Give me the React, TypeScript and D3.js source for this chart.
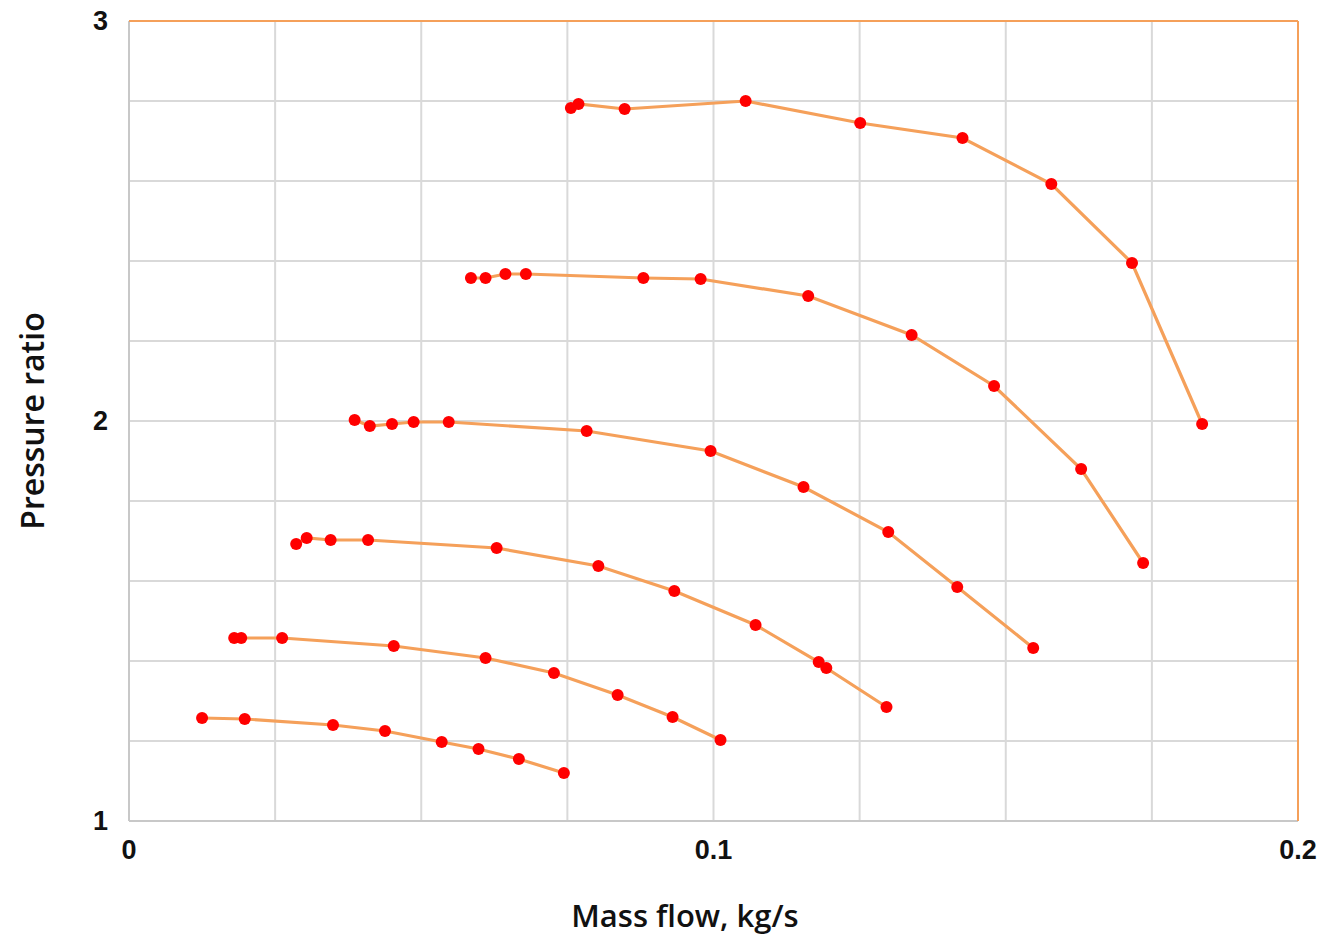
import { useEffect, useRef } from 'react'
import * as d3 from 'd3'

const W = 1324, H = 937
const M = { left: 129, right: 26, top: 21, bottom: 116 }

const X_TICKS = [0, 0.1, 0.2]
const Y_TICKS = [1, 2, 3]

// speed lines, top to bottom
const flow1 = [0.0756, 0.0769, 0.0848, 0.1055, 0.1251, 0.1426, 0.1578, 0.1716, 0.1836]
const ratio1 = [2.7825, 2.7925, 2.78, 2.8, 2.745, 2.7075, 2.5925, 2.395, 1.9925]
const flow2 = [0.0585, 0.061, 0.0644, 0.0679, 0.088, 0.0978, 0.1162, 0.1339, 0.148, 0.1629, 0.1735]
const ratio2 = [2.3575, 2.3575, 2.3675, 2.3675, 2.3575, 2.355, 2.3125, 2.215, 2.0875, 1.88, 1.645]
const flow3 = [0.0386, 0.0412, 0.045, 0.0487, 0.0547, 0.0783, 0.0995, 0.1154, 0.1299, 0.1417, 0.1547]
const ratio3 = [2.0025, 1.9875, 1.9925, 1.9975, 1.9975, 1.975, 1.925, 1.835, 1.7225, 1.585, 1.4325]
const flow4 = [0.0286, 0.0304, 0.0345, 0.0409, 0.0629, 0.0803, 0.0933, 0.1072, 0.118, 0.1193, 0.1296]
const ratio4 = [1.6925, 1.7075, 1.7025, 1.7025, 1.6825, 1.6375, 1.575, 1.49, 1.3975, 1.3825, 1.285]
const flow5 = [0.018, 0.0192, 0.0262, 0.0453, 0.061, 0.0727, 0.0836, 0.093, 0.1012]
const ratio5 = [1.4575, 1.4575, 1.4575, 1.4375, 1.4075, 1.37, 1.315, 1.26, 1.2025]
const flow6 = [0.0125, 0.0198, 0.0349, 0.0438, 0.0535, 0.0598, 0.0667, 0.0744]
const ratio6 = [1.2575, 1.255, 1.24, 1.225, 1.1975, 1.18, 1.155, 1.12]

const SERIES = [
  [flow1, ratio1], [flow2, ratio2], [flow3, ratio3],
  [flow4, ratio4], [flow5, ratio5], [flow6, ratio6],
]

export default function App() {
  const ref = useRef<SVGSVGElement>(null)

  useEffect(() => {
    if (!ref.current) return
    const svg = d3.select(ref.current)
    svg.selectAll('*').remove()

    const x = d3.scaleLinear().domain([0, 0.2]).range([M.left, W - M.right])
    const y = d3.scaleLinear().domain([1, 3]).range([H - M.bottom, M.top])

    // grid
    const grid = svg.append('g')
    grid.selectAll('line.gx')
      .data(d3.range(1, 8).map(i => i * 0.025))
      .join('line')
      .attr('x1', d => x(d)).attr('x2', d => x(d))
      .attr('y1', y(1)).attr('y2', y(3))
      .attr('stroke', '#d9d9d9').attr('stroke-width', 2)
    grid.selectAll('line.gy')
      .data(d3.range(1, 10).map(i => 1 + i * 0.2))
      .join('line')
      .attr('x1', x(0)).attr('x2', x(0.2))
      .attr('y1', d => y(d)).attr('y2', d => y(d))
      .attr('stroke', '#d9d9d9').attr('stroke-width', 2)

    // frame: grey left/bottom, orange top/right
    svg.append('line').attr('x1', x(0)).attr('x2', x(0)).attr('y1', y(1)).attr('y2', y(3))
      .attr('stroke', '#c8c8c8').attr('stroke-width', 2)
    svg.append('line').attr('x1', x(0)).attr('x2', x(0.2)).attr('y1', y(1)).attr('y2', y(1))
      .attr('stroke', '#c8c8c8').attr('stroke-width', 2)
    svg.append('line').attr('x1', x(0)).attr('x2', x(0.2)).attr('y1', y(3)).attr('y2', y(3))
      .attr('stroke', '#f5a05a').attr('stroke-width', 2)
    svg.append('line').attr('x1', x(0.2)).attr('x2', x(0.2)).attr('y1', y(1)).attr('y2', y(3))
      .attr('stroke', '#f5a05a').attr('stroke-width', 2)

    // tick labels
    const font = '"Liberation Sans", Arial, sans-serif'
    svg.selectAll('text.xt').data(X_TICKS).join('text')
      .attr('x', d => x(d)).attr('y', y(1) + 38)
      .attr('text-anchor', 'middle')
      .attr('font-family', font).attr('font-weight', 700).attr('font-size', 27)
      .attr('fill', '#111')
      .text(d => d3.format('')(d))
    svg.selectAll('text.yt').data(Y_TICKS).join('text')
      .attr('x', x(0) - 21).attr('y', d => y(d) + 9)
      .attr('text-anchor', 'end')
      .attr('font-family', font).attr('font-weight', 700).attr('font-size', 27)
      .attr('fill', '#111')
      .text(d => d)

    // axis titles
    svg.append('text')
      .attr('x', 685).attr('y', 927)
      .attr('text-anchor', 'middle')
      .attr('font-family', '"Open Sans", sans-serif').attr('font-weight', 600).attr('font-size', 31)
      .attr('fill', '#111')
      .text('Mass flow, kg/s')
    svg.append('text')
      .attr('transform', `translate(44,${y(2)}) rotate(-90)`)
      .attr('text-anchor', 'middle')
      .attr('font-family', '"Open Sans", sans-serif').attr('font-weight', 600).attr('font-size', 32)
      .attr('fill', '#111')
      .text('Pressure ratio')

    const line = d3.line<[number, number]>().x(d => x(d[0])).y(d => y(d[1]))

    SERIES.forEach(([fx, ry]) => {
      const pts = fx.map((v, i) => [v, ry[i]] as [number, number])
      svg.append('path')
        .attr('d', line(pts))
        .attr('fill', 'none')
        .attr('stroke', '#f5a05a').attr('stroke-width', 3.2)
      svg.append('g').selectAll('circle').data(pts).join('circle')
        .attr('cx', d => x(d[0])).attr('cy', d => y(d[1]))
        .attr('r', 6).attr('fill', '#ff0000')
    })
  }, [])

  return (
    <svg ref={ref} width={W} height={H}
      style={{ position: 'absolute', left: 0, top: 0, background: '#fff' }} />
  )
}
